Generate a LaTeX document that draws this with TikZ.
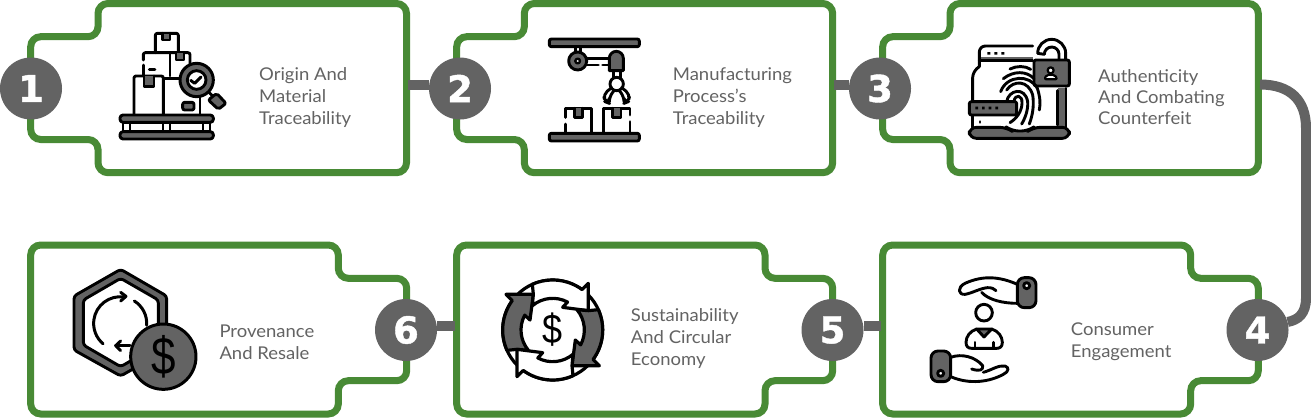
\documentclass[tikz,border=0pt]{standalone}
\usepackage{fontspec}
\setmainfont{Lato}[FakeStretch=1.05]
\newfontfamily\numfont[BoldFeatures={FakeBold=1.2}]{DejaVu Sans}
\newfontfamily\dollarfont{Liberation Sans}
\definecolor{grn}{HTML}{488A35}
\definecolor{gry}{HTML}{636363}
\definecolor{txt}{HTML}{636363}
\tikzset{
 boxline/.style={draw=grn,line width=7pt,fill=white,rounded corners=10pt},
 link/.style={draw=gry,line width=10pt},
 numdot/.style={circle,fill=gry,minimum size=62pt,inner sep=0pt,text=white,font=\numfont\bfseries\fontsize{37}{37}\selectfont},
 lab/.style={anchor=west,inner sep=0pt,align=left,text=txt,font=\fontsize{17.6}{22}\selectfont},
 ic/.style={shift={(#1)},x=.33333pt,y=-.33333pt},
 ln/.style={draw=black,line width=2.9pt,line cap=round,line join=round},
 gf/.style={ln,fill=gry},
 wf/.style={ln,fill=white},
}
\begin{document}
\begin{tikzpicture}[x=1pt,y=-1pt]
\useasboundingbox (0,0) rectangle (1311,418);
\fill[white] (0,0) rectangle (1311,418);
% outer boxes
\foreach \l/\n/\r in {30.7/98/406.5,456.7/524.3/832.7,882.7/950/1258.3}{
 \draw[boxline] (\n,3.5) -- (\r,3.5) -- (\r,172.7) -- (\n,172.7) -- (\n,139.5) -- (\l,139.5) -- (\l,36.7) -- (\n,36.7) -- cycle;
}
\foreach \l/\n/\r in {30.7/338.3/406.7,456.7/765/832.7,882.7/1190.7/1258.3}{
 \draw[boxline] (\l,245) -- (\n,245) -- (\n,278.3) -- (\r,278.3) -- (\r,380.7) -- (\n,380.7) -- (\n,414) -- (\l,414) -- cycle;
}
\coordinate (e1) at (408,85);
\coordinate (e2) at (834,84.5);
\coordinate (e3) at (1260,84.5);
\coordinate (c3a) at (1306,128);
\coordinate (c3b) at (1306,298);
\coordinate (e5) at (881,325.7);
\coordinate (e6) at (455,325.7);
\node[numdot] (n1) at (31,88.5) {1};
\node[numdot] (n2) at (460,88.5) {2};
\node[numdot] (n3) at (880,88.5) {3};
\node[numdot] (n4) at (1257.5,330) {4};
\node[numdot] (n5) at (832.5,330) {5};
\node[numdot] (n6) at (406,330) {6};
\draw[link] (e1) -- (e1 -| n2.west);
\draw[link] (e2) -- (e2 -| n3.west);
\draw[link] (e3) .. controls (1290,84.5) and (1306,100) .. (c3a) -- (c3b) .. controls (1306,314) and (1298,320) .. (n4.15);
\draw[link] (e5) -- (e5 -| n5.east);
\draw[link] (e6) -- (e6 -| n6.east);
% labels
\node[lab] (t1) at (259,98) {Origin And\\Material\\Traceability};
\node[lab] (t2) at (672.7,98) {Manufacturing\\Process’s\\Traceability};
\node[lab,font=\fontsize{17.6}{20.6}\selectfont] (t3) at (1098,97) {Authenticity\\And Combating\\Counterfeit};
\node[lab] (t4) at (1070.7,342) {Consumer\\Engagement};
\node[lab] (t5) at (630.7,339) {Sustainability\\And Circular\\Economy};
\node[lab] (t6) at (219.3,342) {Provenance\\And Resale};
% icon 1
\begin{scope}[ic={0,0}]
\draw[ln,rounded corners=2pt] (466,158) -- (466,100) -- (535,100) -- (535,158);
\fill[gry] (488,102) rectangle (510,120);
\draw[ln] (488,100) -- (488,120) -- (510,120) -- (510,100);
\draw[ln,rounded corners=2pt] (430,180) -- (430,158) -- (570,158) -- (570,190);
\draw[ln] (430,195) -- (430,228);
\draw[ln] (510,158) -- (510,228);
\fill[gry] (528,160) rectangle (552,180);
\draw[ln] (528,160) -- (528,180) -- (552,180) -- (552,160);
\draw[ln] (448,209) -- (465,209);
\draw[ln,rounded corners=2pt] (402,345) -- (402,228) -- (490,228) -- (490,345);
\draw[gf] (432,228) -- (432,260) -- (462,260) -- (462,228);
\draw[ln] (490,235) -- (540,235);
\draw[ln] (600,290) -- (600,345);
\draw[gf,rounded corners=2pt] (548,307) rectangle (582,330);
\draw[ln] (620,270) -- (640,290);
\draw[gf,rounded corners=2pt] (650,280) -- (678,310) -- (655,328) -- (625,300) -- cycle;
\draw[ln,fill=gry,line width=3pt] (590,240) circle (50);
\draw[wf] (590,240) circle (28);
\draw[ln] (572,241) -- (584,250) -- (603,231);
\foreach \a in {370,490,610}{\draw[ln,line width=2pt] (\a,367) -- (\a,395) (\a+20,367) -- (\a+20,395);}
\draw[gf,rounded corners=3pt] (360,345) rectangle (640,367);
\draw[gf,rounded corners=3pt] (360,395) rectangle (640,417);
\end{scope}
% icon 2
\begin{scope}[ic={430,0}]
\draw[gf,rounded corners=2pt] (358,117) rectangle (628,140);
\draw[ln] (437,140) -- (437,160) (452,140) -- (452,160);
\draw[ln] (470,175) -- (540,175) (470,195) -- (505,195) (518,195) -- (540,195);
\draw[gf] (443,183) circle (27);
\draw[wf,line width=2.4pt] (443,183) circle (7);
\draw[gf] (538,212) -- (538,175) arc (180:360:21 and 21) -- (580,212) -- cycle;
\draw[ln] (550,212) -- (550,235) (571,212) -- (571,235);
\draw[wf] (560,252) circle (20);
\draw[ln,rounded corners=5pt] (545,263) -- (520,283) -- (525,305) -- (538,310) -- (538,290) -- (552,272);
\draw[ln,rounded corners=5pt] (575,263) -- (600,283) -- (595,305) -- (582,310) -- (582,290) -- (568,272);
\draw[ln] (407,352) -- (407,325) -- (485,325) -- (485,400) (407,372) -- (407,400);
\draw[gf] (433,325) -- (433,352) -- (458,352) -- (458,325);
\draw[ln] (520,400) -- (520,325) -- (600,325) -- (600,345) (600,365) -- (600,400);
\draw[gf] (548,325) -- (548,352) -- (573,352) -- (573,325);
\draw[gf,rounded corners=2pt] (358,400) rectangle (628,423);
\end{scope}
% icon 3
\begin{scope}[ic={860,0}]
\fill[gry] (360,170) rectangle (518,182);
\draw[ln,rounded corners=6pt] (358,200) -- (358,138) -- (518,138);
\draw[ln] (358,182) -- (518,182);
\fill[black] (382,156) rectangle (391,164) (403,156) rectangle (412,164) (424,156) rectangle (433,164);
\draw[ln,rounded corners=6pt] (338,300) -- (338,215) -- (358,200);
\draw[ln] (338,345) -- (338,382);
\draw[ln] (360,365) -- (360,367);
\fill[gry] (595,265) rectangle (615,385);
\draw[ln] (592,272) -- (592,375) (618,265) -- (618,385);
\draw[ln] (617,180) -- (617,160) arc (360:180:42) -- (553,163) arc (180:360:22) -- (597,180);
\draw[gf,rounded corners=2pt] (522,180) rectangle (628,258);
\draw[wf,line width=2.2pt,rounded corners=2pt] (553,238) -- (560,224) -- (584,224) -- (592,238) -- cycle;
\draw[wf,line width=2.2pt] (572,211) circle (9);
\draw[ln] (450,207) .. controls (470,197) and (495,197) .. (512,208);
\draw[ln] (430,236) .. controls (460,212) and (500,212) .. (522,236);
\draw[ln] (422,275) .. controls (440,225) and (510,222) .. (532,265) (532,265) .. controls (540,290) and (542,310) .. (538,330);
\draw[ln] (440,270) .. controls (460,240) and (505,240) .. (518,285) .. controls (522,310) and (520,340) .. (508,372);
\draw[ln] (440,305) .. controls (445,270) and (495,258) .. (503,305) .. controls (505,330) and (495,355) .. (485,372);
\draw[ln] (462,305) .. controls (465,280) and (488,285) .. (486,310) .. controls (485,335) and (470,355) .. (450,368);
\draw[gf,rounded corners=2pt] (328,305) rectangle (470,345);
\fill[black] (346,320) rectangle (354,328) (366,320) rectangle (374,328) (386,320) rectangle (394,328) (406,320) rectangle (414,328);
\draw[gf,rounded corners=7pt] (400,382) -- (440,382) -- (455,393) -- (505,393) -- (520,382) -- (628,382) -- (628,415) -- (328,415) -- (328,382) -- cycle;
\end{scope}
% icon 4
\begin{scope}[ic={860,235}]
\draw[ln] (472,148) .. controls (420,125) and (370,120) .. (315,145) .. controls (290,158) and (295,180) .. (315,178) .. controls (335,175) and (360,160) .. (382,158) .. controls (395,157) and (403,162) .. (408,167);
\draw[ln] (365,172) .. controls (385,195) and (430,205) .. (472,205);
\draw[gf,rounded corners=7pt] (472,128) rectangle (528,218);
\draw[wf] (500,152) circle (9);
\draw[ln] (372,233) circle (25);
\draw[ln] (350,282) .. controls (330,288) and (318,305) .. (318,322) .. controls (318,335) and (325,340) .. (335,340) -- (410,340) .. controls (420,340) and (427,335) .. (427,322) .. controls (427,305) and (415,288) .. (395,282);
\fill[gry] (352,283) -- (393,283) -- (372,306) -- cycle;
\draw[ln] (350,282) -- (395,282) (350,282) -- (372,306) -- (395,282);
\draw[ln] (345,322) -- (345,338) (400,322) -- (400,338);
\draw[ln] (272,367) .. controls (305,355) and (345,365) .. (368,392) .. controls (370,405) and (360,410) .. (335,402);
\draw[ln] (370,412) .. controls (395,405) and (415,390) .. (435,393) .. controls (448,397) and (447,410) .. (430,418) .. controls (390,440) and (330,450) .. (272,425);
\draw[gf,rounded corners=7pt] (213,348) rectangle (272,440);
\draw[wf] (242,415) circle (9);
\end{scope}
% icon 5
\begin{scope}[shift={(552.67,330)},x=.33333pt,y=.33333pt]
\draw[ln,fill=white,line width=3.2pt] (0,0) circle (150);
\foreach \k/\c in {0/gry,-90/white,-180/gry,-270/white}{
\begin{scope}[rotate=\k]
\draw[ln,line width=3.2pt,fill=\c] (204:150) arc (204:144:150) -- (-140,107) -- (-58,107) -- (-68,30) -- (152:95) arc (152:220:95) -- (-107,-58) -- cycle;
\end{scope}}
\node[inner sep=0pt,font=\dollarfont\fontsize{36}{36}\selectfont] (d5) at (0,0) {\scalebox{1}[1.15]{\$}};
\end{scope}
% icon 6
\begin{scope}[ic={0,235}]
\draw[gf,rounded corners=3pt] (362,103) -- (500,183) -- (500,345) -- (362,423) -- (222,345) -- (222,183) -- cycle;
\draw[wf,rounded corners=3pt] (362,130) -- (475,195) -- (475,330) -- (362,395) -- (250,330) -- (250,195) -- cycle;
\draw[ln,line width=3pt] (372,186) arc (-82:-230:80);
\draw[ln,line width=3pt] (362,172) -- (378,184) -- (362,198);
\draw[ln,line width=3pt] (403,198) arc (-58:4:79);
\draw[ln,line width=3pt] (348,332) -- (390,332);
\draw[ln,line width=3pt] (362,318) -- (347,332) -- (362,347);
\draw[gf,line width=3pt] (490,365) circle (98);
\node[inner sep=0pt,font=\dollarfont\fontsize{44}{44}\selectfont] (d6) at (490,365) {\scalebox{1}[1.2]{\$}};
\end{scope}
\end{tikzpicture}
\end{document}
